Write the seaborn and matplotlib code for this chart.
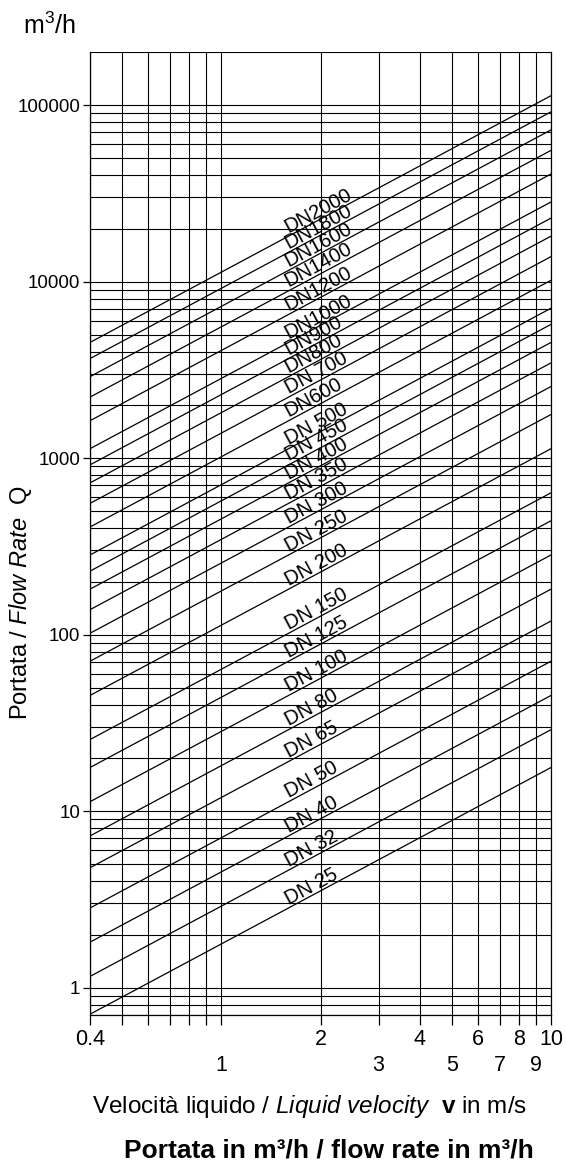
import numpy as np
import pandas as pd
import matplotlib
matplotlib.use('Agg')
import matplotlib.pyplot as plt
from matplotlib import font_manager as fm
from matplotlib.ticker import FixedLocator, FixedFormatter, NullFormatter
import seaborn as sns

#%%
'''DATA'''
dn_sizes = [25, 32, 40, 50, 65, 80, 100, 125, 150, 200, 250, 300, 350, 400,
            450, 500, 600, 700, 800, 900, 1000, 1200, 1400, 1600, 1800, 2000]
dn_labels = ['DN 25', 'DN 32', 'DN 40', 'DN 50', 'DN 65', 'DN 80', 'DN 100',
             'DN 125', 'DN 150', 'DN 200', 'DN 250', 'DN 300', 'DN 350',
             'DN 400', 'DN 450', 'DN 500', 'DN600', 'DN 700', 'DN800', 'DN900',
             'DN1000', 'DN1200', 'DN1400', 'DN1600', 'DN1800', 'DN2000']
#flow rate at left edge (v = 0.4 m/s) and right edge (v = 10 m/s)
v_start, v_end = 0.4, 10
q_start = [0.707, 1.158, 1.810, 2.827, 4.778, 7.238, 11.31, 17.67, 25.45,
           45.24, 70.69, 101.8, 138.5, 181.0, 229.0, 282.7, 407.2, 554.2,
           723.8, 916.1, 1131, 1629, 2217, 2895, 3664, 4524]
q_end = [17.67, 28.95, 45.24, 70.69, 119.5, 181.0, 282.7, 441.8, 636.2,
         1131, 1767, 2545, 3464, 4524, 5726, 7069, 10179, 13854, 18096,
         22902, 28274, 40715, 55418, 72382, 91609, 113097]

#upper row of x labels (major) and lower row (minor)
x_upper_ticks = [0.4, 0.5, 0.6, 0.7, 0.8, 0.9, 2, 4, 6, 8, 10]
x_upper_labels = ['0.4', '', '', '', '', '', '2', '4', '6', '8', '10']
x_lower_ticks = [1, 3, 5, 7, 9]
x_lower_labels = ['1', '3', '5', '7', '9']
y_ticks = [1, 10, 100, 1000, 10000, 100000]
y_ticklabels = ['1', '10', '100', '1000', '10000', '100000']

#long format table for seaborn
rows = []
for d, qa, qb in zip(dn_sizes, q_start, q_end):
    rows.append({'DN': d, 'v': v_start, 'Q': qa})
    rows.append({'DN': d, 'v': v_end, 'Q': qb})
lines = pd.DataFrame(rows)

#%%
'''STYLE'''
sns.set_style('white')
plt.rcParams['font.family'] = ['Liberation Sans', 'DejaVu Sans']
plt.rcParams['mathtext.fontset'] = 'custom'
plt.rcParams['mathtext.rm'] = 'Liberation Sans'
plt.rcParams['mathtext.it'] = 'Liberation Sans:italic'
plt.rcParams['mathtext.bf'] = 'Liberation Sans:bold'
for key in ['text.color', 'axes.labelcolor', 'xtick.color', 'ytick.color']:
    plt.rcParams[key] = 'black'

names = {f.name for f in fm.fontManager.ttflist}
narrow = 'Liberation Sans Narrow' if 'Liberation Sans Narrow' in names else 'Liberation Sans'

#%%
'''PLOT'''
fig = plt.figure(figsize=(5.66, 11.62), dpi=100)
ax = fig.add_axes([90/566, 1 - 1015/1162, 461/566, 963/1162])

sns.lineplot(data=lines, x='v', y='Q', units='DN', estimator=None,
             color='black', lw=0.9, legend=False, ax=ax)

ax.set_xscale('log')
ax.set_yscale('log')
ax.set_xlim(0.4, 10)
ax.set_ylim(0.7, 200000)

#x ticks, two rows of labels
ax.xaxis.set_major_locator(FixedLocator(x_upper_ticks))
ax.xaxis.set_major_formatter(FixedFormatter(x_upper_labels))
ax.xaxis.set_minor_locator(FixedLocator(x_lower_ticks))
ax.xaxis.set_minor_formatter(FixedFormatter(x_lower_labels))
ax.tick_params(axis='x', which='major', direction='out', length=7, width=0.9,
               pad=3, labelsize=15.5, color='black', labelcolor='black', bottom=True)
ax.tick_params(axis='x', which='minor', direction='out', length=7, width=0.9,
               pad=22, labelsize=15.5, color='black', labelcolor='black', bottom=True)

#y ticks
ax.yaxis.set_major_locator(FixedLocator(y_ticks))
minor_y = [m * 10.0**e for e in range(-1, 6) for m in range(2, 10)]
minor_y = [y for y in minor_y if 0.7 <= y <= 200000 and y not in y_ticks]
ax.yaxis.set_minor_locator(FixedLocator(minor_y))
ax.yaxis.set_minor_formatter(NullFormatter())
ax.set_yticklabels(y_ticklabels)
ax.tick_params(axis='y', which='major', direction='out', length=5, width=0.9,
               pad=2, labelsize=13.5, color='black', labelcolor='black', left=True)
ax.tick_params(axis='y', which='minor', length=0)
for lab in ax.get_yticklabels():
    lab.set_family([narrow, 'DejaVu Sans'])

ax.grid(True, which='both', axis='both', color='black', lw=0.8)
ax.set_axisbelow(True)

ax.spines['top'].set_visible(False)
for s in ['left', 'right', 'bottom']:
    ax.spines[s].set_color('black')
    ax.spines[s].set_linewidth(0.9)

#DN labels along the lines
p1 = ax.transData.transform((1, 1))
p2 = ax.transData.transform((10, 10))
angle = np.degrees(np.arctan2(p2[1] - p1[1], p2[0] - p1[0]))
v_lab = 1.6
frac = np.log(v_lab / v_start) / np.log(v_end / v_start)
for lab, qa, qb in zip(dn_labels, q_start, q_end):
    q_lab = qa * (qb / qa) ** frac * 1.045
    ax.text(v_lab, q_lab, lab, rotation=angle, rotation_mode='anchor',
            ha='left', va='baseline', fontsize=14.5, color='black')

#axis labels
ax.set_xlabel(r'Velocità liquido / $\mathit{Liquid\ velocity}$  $\mathbf{v}$ in m/s',
              fontsize=17.5, color='black')
ax.xaxis.set_label_coords(0.477, -0.0815)
ax.set_ylabel(r'Portata / $\mathit{Flow\ Rate}$  Q', fontsize=17, color='black')
ax.yaxis.set_label_coords(-0.122, 0.428)

fig.text(23/566, 1 - 34/1162, r'm$^3$/h', fontsize=18, ha='left', va='baseline',
         color='black')
fig.text(329/566, 1 - 1157/1162, 'Portata in m³/h / flow rate in m³/h',
         fontsize=19, fontweight='bold', ha='center', va='baseline', color='black')

fig.savefig('out.png', dpi=100)
